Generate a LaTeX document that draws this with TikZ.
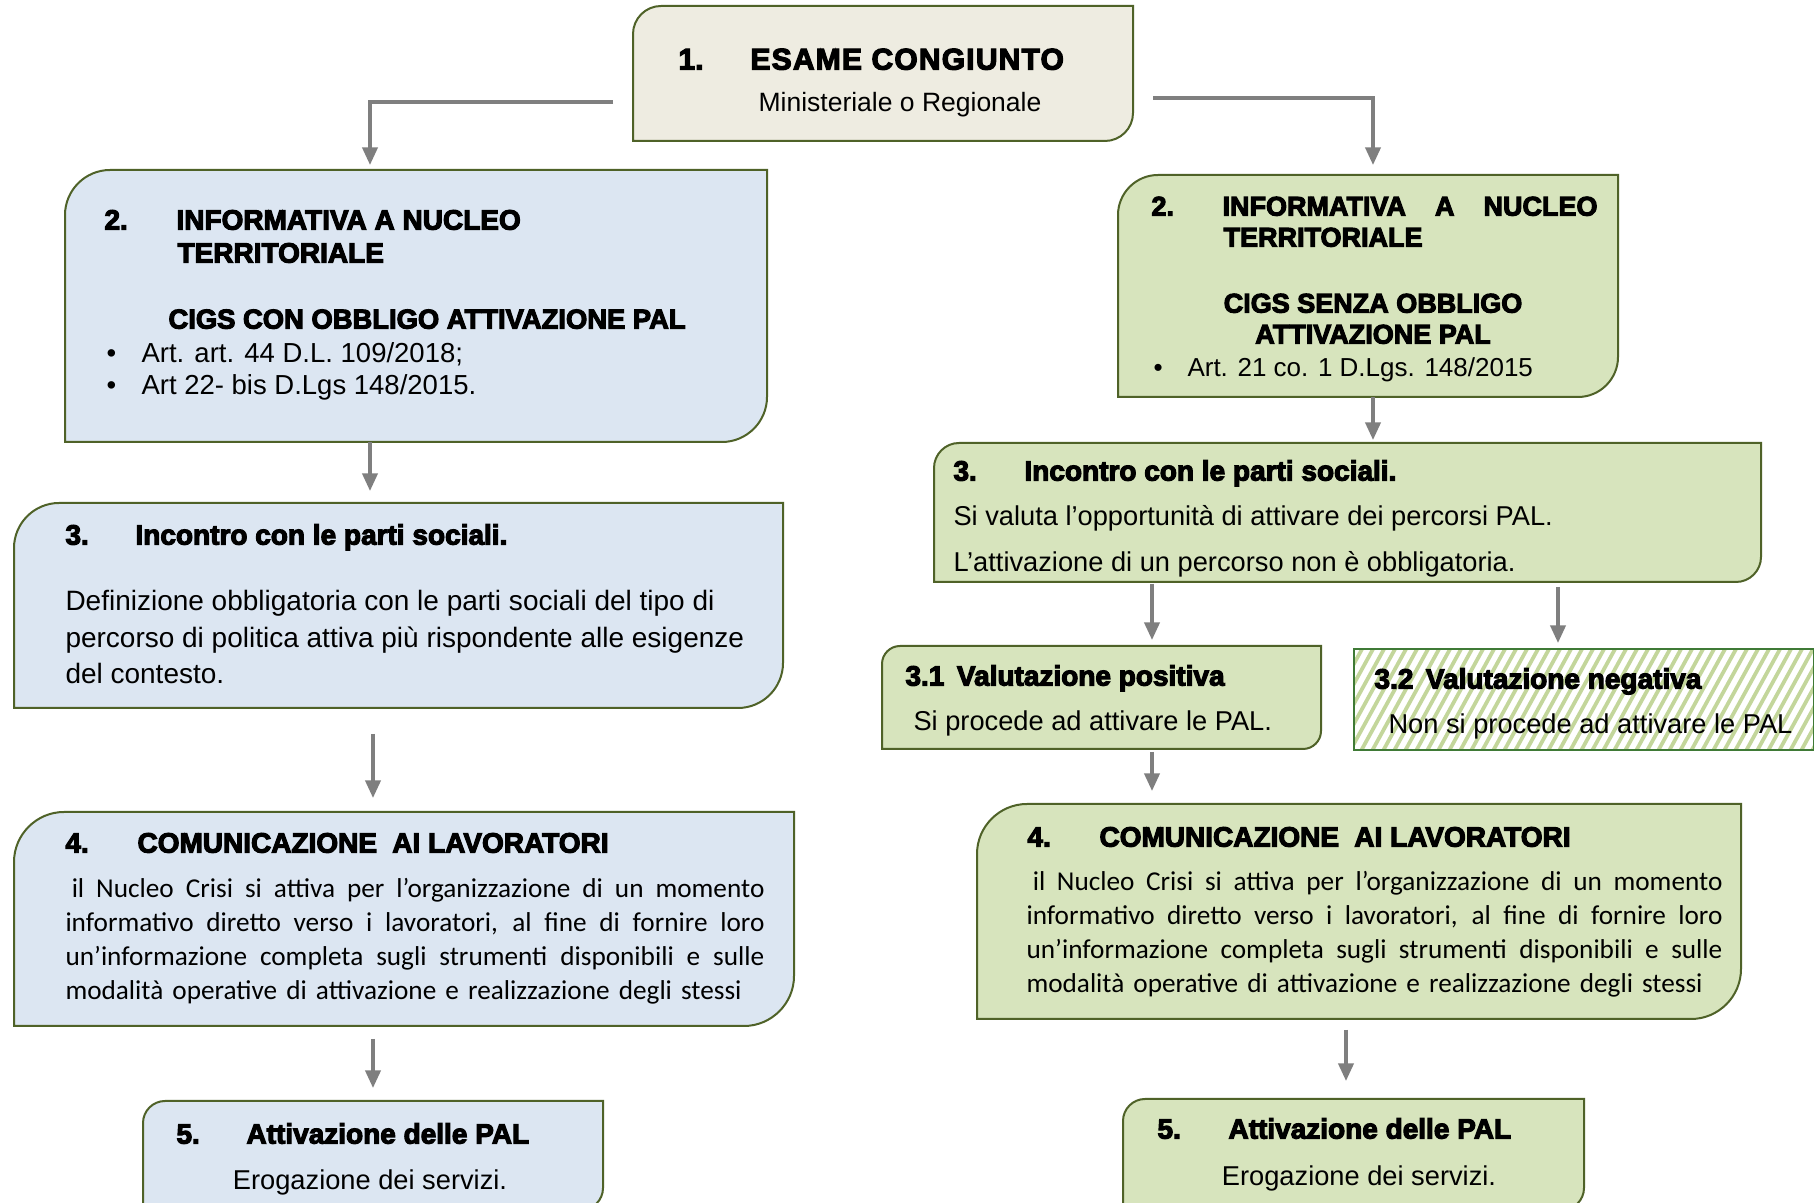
\documentclass[tikz,border=0pt]{standalone}
\usepackage{fontspec}
\setmainfont{Liberation Sans}
\newfontfamily\hfont{Liberation Sans}[BoldFeatures={FakeBold=4}]
\newfontfamily\cfont{Carlito}
\usetikzlibrary{arrows.meta,fit,calc}
\definecolor{bord}{HTML}{4F6228}
\definecolor{bluef}{HTML}{DCE6F2}
\definecolor{greenf}{HTML}{D7E4BD}
\definecolor{beigef}{HTML}{EEECE1}
\definecolor{arrgray}{HTML}{7F7F7F}
\definecolor{hatchc}{HTML}{C3D69B}
\definecolor{hatchb}{HTML}{3F7A36}
\newcommand\flowbox[7]{%
 \path[bx, fill=#7] (#2,#5) -- (#2,#3+#6) .. controls (#2,#3+0.45*#6) and (#2+0.45*#6,#3) .. (#2+#6,#3) -- (#4,#3) -- (#4,#5-#6) .. controls (#4,#5-0.45*#6) and (#4-0.45*#6,#5) .. (#4-#6,#5) -- cycle;
 \coordinate (#1-nw) at (#2,#3); \coordinate (#1-se) at (#4,#5);
 \node[fit=(#1-nw)(#1-se), inner sep=0, outer sep=0] (#1) {};
}
\newcommand\jline[2]{\hbox to #1{\spaceskip=0.23em plus 1fil\relax #2}}
\tikzset{
 hd/.style={anchor=mid west, inner sep=0, yshift=-1.2pt, font=\hfont\bfseries\fontsize{11.2}{13}\selectfont},
 bd/.style={anchor=mid west, inner sep=0, yshift=-1.2pt, font=\fontsize{10.9}{14}\selectfont},
 para/.style={anchor=north west, inner sep=0, yshift=-1.2pt, align=left},
 arr/.style={draw=arrgray, line width=1.4pt, -{Triangle[length=7pt,width=6pt]}},
 bx/.style={draw=bord, line width=0.8pt},
}
\begin{document}
\begin{tikzpicture}[x=0.4pt,y=-0.4pt]
\useasboundingbox (0,0) rectangle (1814,1203);
\fill[white] (0,0) rectangle (1814,1203);

% Box 1
\flowbox{b1}{633}{6}{1133}{141}{28}{beigef}
\node[hd, font=\hfont\bfseries\fontsize{12}{14}\selectfont] (t1n) at (678,60) {1.};
\node[hd, font=\hfont\bfseries\fontsize{12}{14}\selectfont\addfontfeature{LetterSpace=4}] (t1h) at (750,60) {ESAME CONGIUNTO};
\node[bd, anchor=mid, font=\fontsize{10.6}{14}\selectfont] (t1b) at (900,102) {Ministeriale o Regionale};

% Box 2 left
\flowbox{b2L}{65}{170}{767}{442}{45}{bluef}
\node[hd] (t2Ln) at (104,220) {2.};
\node[hd] (t2Lh1) at (176,220) {INFORMATIVA A NUCLEO};
\node[hd] (t2Lh2) at (177,253) {TERRITORIALE};
\node[hd, font=\hfont\bfseries\fontsize{10.95}{13}\selectfont] (t2Lh3) at (168,319) {CIGS CON OBBLIGO ATTIVAZIONE PAL};
\node[bd, font=\fontsize{11}{14}\selectfont] (t2Lb1) at (106,353) {•};
\node[bd, font=\fontsize{11}{14}\selectfont] (t2Lt1) at (141,353) {Art. art. 44 D.L. 109/2018;};
\node[bd, font=\fontsize{11}{14}\selectfont] (t2Lb2) at (106,385) {•};
\node[bd, font=\fontsize{11}{14}\selectfont] (t2Lt2) at (141,385) {Art 22- bis D.Lgs 148/2015.};

% Box 2 right
\flowbox{b2R}{1118}{175}{1618}{397}{40}{greenf}
\tikzset{hdr/.style={hd, font=\hfont\bfseries\fontsize{10.8}{13}\selectfont}}
\node[hdr] (t2Rn) at (1151,206) {2.};
\node[hdr] (t2Rh1) at (1222,206) {\hbox to 150pt{INFORMATIVA\hfill A\hfill NUCLEO}};
\node[hdr] (t2Rh2) at (1223,237) {TERRITORIALE};
\node[hdr, anchor=mid] (t2Rh3) at (1373,303) {CIGS SENZA OBBLIGO};
\node[hdr, anchor=mid] (t2Rh4) at (1373,334) {ATTIVAZIONE PAL};
\node[bd, font=\fontsize{10.4}{14}\selectfont] (t2Rb1) at (1153,367) {•};
\node[bd, font=\fontsize{10.4}{14}\selectfont] (t2Rt1) at (1187,367) {Art. 21 co. 1 D.Lgs. 148/2015};

% Box 3 left
\flowbox{b3L}{14}{503}{783}{708}{45}{bluef}
\node[hd] (t3Ln) at (65,535) {3.};
\node[hd] (t3Lh) at (135,535) {Incontro con le parti sociali.};
\node[para, font=\fontsize{11.2}{14.6}\selectfont] (t3Lp) at (65,587) {Definizione obbligatoria con le parti sociali del tipo di\\ percorso di politica attiva più rispondente alle esigenze\\ del contesto.};

% Box 3 right
\flowbox{b3R}{934}{443}{1761}{582}{25}{greenf}
\node[hd] (t3Rn) at (953,471) {3.};
\node[hd] (t3Rh) at (1024,471) {Incontro con le parti sociali.};
\node[bd] (t3Rl1) at (953,516) {Si valuta l’opportunità di attivare dei percorsi PAL.};
\node[bd] (t3Rl2) at (953,562) {L’attivazione di un percorso non è obbligatoria.};

% Box 3.1
\flowbox{b31}{882}{646}{1321}{749}{18}{greenf}
\node[hd] (t31h) at (905,676) {3.1\hspace{5pt}Valutazione positiva};
\node[bd] (t31b) at (913,721) {Si procede ad attivare le PAL.};

% Box 3.2 (hatched)
\begin{scope}
 \clip (1354,649) rectangle (1814,750);
 \fill[white] (1354,649) rectangle (1814,750);
 \foreach \k in {0,...,52} { \draw[hatchc, line width=1.5pt] (1290+\k*11,760) -- ++(66,-120); }
\end{scope}
\draw[hatchb, line width=0.9pt] (1354,649) rectangle (1814,750);
\coordinate (b32-nw) at (1354,649); \coordinate (b32-se) at (1814,750);
\node[fit=(b32-nw)(b32-se), inner sep=0, outer sep=0] (b32) {};
\node[hd] (t32h) at (1374,679) {3.2\hspace{5pt}Valutazione negativa};
\node[bd] (t32b) at (1388,724) {Non si procede ad attivare le PAL};

% Box 4 left
\flowbox{b4L}{14}{812}{794}{1026}{50}{bluef}
\node[hd] (t4Ln) at (65,843) {4.};
\node[hd] (t4Lh) at (137,843) {COMUNICAZIONE\hspace{3pt} AI LAVORATORI};
\node[para, font=\cfont\fontsize{10.9}{13.6}\selectfont] (t4Lp) at (65,875) {\jline{279.6pt}{\hspace*{2.5pt}il Nucleo Crisi si attiva per l’organizzazione di un momento}\\ \jline{279.6pt}{informativo diretto verso i lavoratori, al fine di fornire loro}\\ \jline{279.6pt}{un’informazione completa sugli strumenti disponibili e sulle}\\ \jline{270.4pt}{modalità operative di attivazione e realizzazione degli stessi}};

% Box 4 right
\flowbox{b4R}{977}{804}{1741}{1019}{50}{greenf}
\node[hd] (t4Rn) at (1027,837) {4.};
\node[hd] (t4Rh) at (1099,837) {COMUNICAZIONE\hspace{3pt} AI LAVORATORI};
\node[para, font=\cfont\fontsize{10.9}{13.6}\selectfont] (t4Rp) at (1026,868) {\jline{278.4pt}{\hspace*{2.5pt}il Nucleo Crisi si attiva per l’organizzazione di un momento}\\ \jline{278.4pt}{informativo diretto verso i lavoratori, al fine di fornire loro}\\ \jline{278.4pt}{un’informazione completa sugli strumenti disponibili e sulle}\\ \jline{270.4pt}{modalità operative di attivazione e realizzazione degli stessi}};

% Box 5 left
\flowbox{b5L}{143}{1101}{603}{1210}{22}{bluef}
\node[hd] (t5Ln) at (176,1134) {5.};
\node[hd] (t5Lh) at (246,1134) {Attivazione delle PAL};
\node[bd, anchor=mid] (t5Lb) at (370,1180) {Erogazione dei servizi.};

% Box 5 right
\flowbox{b5R}{1123}{1099}{1584}{1210}{22}{greenf}
\node[hd] (t5Rn) at (1157,1129) {5.};
\node[hd] (t5Rh) at (1228,1129) {Attivazione delle PAL};
\node[bd, anchor=mid] (t5Rb) at (1359,1176) {Erogazione dei servizi.};

% Connectors
\draw[arr] ($(b1.south west)+(-20,-39)$) -| ($(b2L.north west)+(305,-5)$);
\draw[arr] ($(b1.south east)+(20,-43)$) -| ($(b2R.north west)+(255,-10)$);
\draw[arr] ($(b2L.south west)+(305,0)$) -- ($(b3L.north west)+(356,-12)$);
\draw[arr] ($(b3L.south west)+(359,26)$) -- ($(b4L.north west)+(359,-14)$);
\draw[arr] ($(b4L.south west)+(359,13)$) -- ($(b5L.north west)+(230,-13)$);
\draw[arr] ($(b2R.south west)+(255,0)$) -- ($(b3R.north west)+(439,-3)$);
\draw[arr] ($(b3R.south west)+(218,2)$) -- ($(b31.north west)+(270,-6)$);
\draw[arr] ($(b3R.south west)+(624,5)$) -- ($(b32.north west)+(204,-6)$);
\draw[arr] ($(b31.south west)+(270,3)$) -- ($(b4R.north west)+(175,-13)$);
\draw[arr] ($(b4R.south west)+(369,11)$) -- ($(b5R.north west)+(223,-18)$);
\end{tikzpicture}
\end{document}
